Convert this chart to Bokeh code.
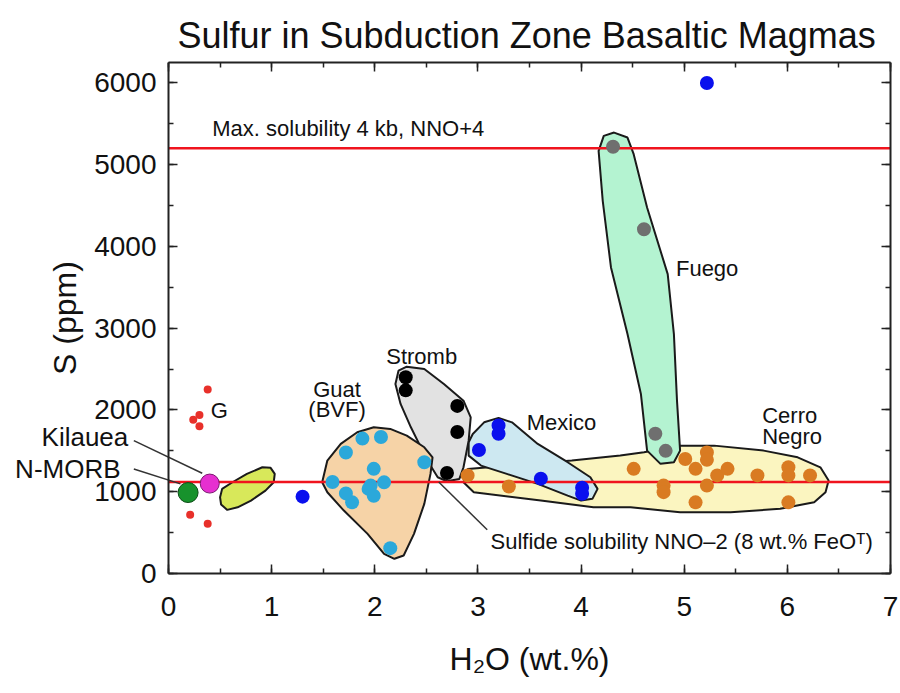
from bokeh.plotting import figure
from bokeh.models import (Range1d, LinearAxis, SingleIntervalTicker, Label,
                          CustomJSTickFormatter)
from bokeh.embed import file_html
from bokeh.resources import INLINE

FONT = "Liberation Sans"

# ---------------- data (H2O wt.%, S ppm) ----------------
g_h2o = [0.38, 0.30, 0.24, 0.30, 0.21, 0.38]
g_s = [2250, 1940, 1880, 1800, 720, 610]

kilauea_h2o = [0.40]
kilauea_s = [1100]

morb_h2o = [0.19]
morb_s = [990]

blue_h2o = [1.30, 5.22]
blue_s = [940, 6000]

mexico_h2o = [3.20, 3.20, 3.01, 3.61, 4.01, 4.01]
mexico_s = [1810, 1710, 1510, 1160, 1050, 975]

guat_h2o = [1.59, 1.72, 1.78, 1.88, 2.06, 1.99, 2.48, 1.96, 2.09, 1.94, 1.72, 1.99, 2.15]
guat_s = [1120, 1480, 870, 1650, 1670, 1280, 1360, 1075, 1115, 1035, 980, 950, 310]

stromb_h2o = [2.30, 2.30, 2.80, 2.80, 2.70]
stromb_s = [2400, 2240, 2050, 1730, 1230]

fuego_h2o = [4.31, 4.61, 4.72, 4.82]
fuego_s = [5220, 4210, 1710, 1500]

cerro_h2o = [2.90, 3.30, 4.51, 4.80, 4.80, 5.01, 5.11, 5.11, 5.22, 5.22, 5.22,
             5.32, 5.42, 5.71, 6.01, 6.01, 6.01, 6.22]
cerro_s = [1200, 1065, 1280, 1075, 995, 1400, 1280, 870, 1480, 1390, 1075,
           1200, 1280, 1200, 1300, 1200, 870, 1200]

# field outlines (H2O, S)
yg_field_h2o = [0.52, 0.62, 0.76, 0.91, 0.99, 1.03, 1.02, 0.94, 0.80, 0.67, 0.57, 0.51, 0.50]
yg_field_s = [1035, 1116, 1218, 1299, 1292, 1218, 1116, 1014, 892, 810, 778, 843, 932]

guat_field_h2o = [1.49, 1.54, 1.67, 1.83, 1.99, 2.15, 2.31, 2.48, 2.56, 2.54, 2.48, 2.38,
                  2.28, 2.19, 2.09, 1.93, 1.70, 1.54]
guat_field_s = [1116, 1381, 1585, 1727, 1788, 1768, 1686, 1544, 1421, 1218, 852, 485,
                220, 180, 241, 485, 770, 994]

stromb_field_h2o = [2.23, 2.31, 2.48, 2.67, 2.86, 2.93, 2.91, 2.86, 2.82, 2.70, 2.61,
                    2.51, 2.35, 2.25, 2.20]
stromb_field_s = [2481, 2530, 2502, 2318, 2114, 1910, 1625, 1299, 1157, 1128, 1177,
                  1381, 1788, 2074, 2318]

mexico_field_h2o = [2.95, 3.06, 3.20, 3.33, 3.58, 3.87, 4.09, 4.16, 4.11, 4.00, 3.87,
                    3.58, 3.28, 3.03, 2.91, 2.91]
mexico_field_s = [1707, 1849, 1903, 1849, 1585, 1361, 1177, 1035, 913, 892, 953,
                  1096, 1218, 1320, 1442, 1605]

cerro_field_h2o = [2.90, 3.91, 4.38, 4.61, 4.96, 5.29, 5.77, 6.10, 6.32, 6.40, 6.37,
                   6.26, 5.93, 5.45, 4.96, 4.48, 4.12, 3.61, 2.96, 2.86]
cerro_field_s = [1279, 1381, 1442, 1482, 1564, 1564, 1503, 1421, 1299, 1137, 994,
                 871, 791, 749, 749, 810, 810, 892, 994, 1116]

fuego_field_h2o = [4.32, 4.45, 4.51, 4.64, 4.84, 4.90, 4.93, 4.96, 4.90, 4.77, 4.64,
                   4.58, 4.45, 4.29, 4.21, 4.17, 4.22]
fuego_field_s = [5393, 5332, 5129, 4476, 3662, 2929, 2114, 1503, 1360, 1341, 1503,
                 2196, 2929, 3743, 4558, 5169, 5352]

# solubility limits (S ppm)
solubility_s = [5200, 1120]

x_min, x_max = 0, 7
y_min, y_max = 0, 6250
x_ticks_interval = 1
y_ticks_interval = 1000

# ---------------- figure ----------------
# The frame covers the whole canvas below the title; the four axes are pinned
# to the 0-7 / 0-6250 box so that labels outside it are not clipped.
px_per_x = (890 - 168) / 7
px_per_y = (573 - 62) / 6250
x_left = -168 / px_per_x
x_right = x_max + (900 - 890) / px_per_x
y_bottom = -(693 - 573) / px_per_y

p = figure(width=900, height=693, output_backend="svg", toolbar_location=None,
           x_range=Range1d(x_left, x_right), y_range=Range1d(y_bottom, y_max),
           min_border_left=0, min_border_right=0, min_border_top=62,
           min_border_bottom=0, x_axis_type=None, y_axis_type=None)
p.background_fill_color = "white"
p.border_fill_color = "white"
p.outline_line_color = None
p.grid.visible = False

p.title.text = "Sulfur in Subduction Zone Basaltic Magmas"
p.title.align = "left"
p.title.offset = 177
p.title.text_font = FONT
p.title.text_font_size = "36px"
p.title.text_font_style = "normal"
p.title.text_color = "#111111"
p.title.standoff = 14

xt = SingleIntervalTicker(interval=x_ticks_interval, num_minor_ticks=2)
yt = SingleIntervalTicker(interval=y_ticks_interval, num_minor_ticks=2)
blank = CustomJSTickFormatter(code="return ''")


def style_axis(ax, labels=True):
    ax.axis_line_color = "#222222"
    ax.axis_line_width = 2
    ax.major_tick_line_color = "#222222"
    ax.minor_tick_line_color = "#222222"
    ax.major_tick_line_width = 1.5
    ax.minor_tick_line_width = 1.5
    ax.major_tick_in = 9
    ax.major_tick_out = 0
    ax.minor_tick_in = 5
    ax.minor_tick_out = 0
    ax.major_label_text_font = FONT
    if labels:
        ax.major_label_text_font_size = "28px"
        ax.major_label_text_color = "#111111"
        ax.axis_label_text_font = FONT
        ax.axis_label_text_font_size = "32px"
        ax.axis_label_text_font_style = "normal"
        ax.axis_label_text_color = "#111111"
    else:
        ax.formatter = blank
        ax.major_label_standoff = 0


xb = LinearAxis(ticker=xt, axis_label="H\u2082O (wt.%)", fixed_location=y_min,
                bounds=(x_min, x_max))
style_axis(xb)
xb.major_label_standoff = 23
xb.axis_label_standoff = 22
p.add_layout(xb, "below")

yl = LinearAxis(ticker=yt, axis_label="S (ppm)", fixed_location=x_min,
                bounds=(y_min, y_max))
style_axis(yl)
yl.major_label_standoff = 12
yl.axis_label_standoff = 8
p.add_layout(yl, "left")

xa = LinearAxis(ticker=xt, bounds=(x_min, x_max))
style_axis(xa, labels=False)
p.add_layout(xa, "above")

yr = LinearAxis(ticker=yt, fixed_location=x_max, bounds=(y_min, y_max))
style_axis(yr, labels=False)
p.add_layout(yr, "right")

# ---------------- fields ----------------
OUT = "#1a1a1a"
p.patch(cerro_field_h2o, cerro_field_s, fill_color="#fbf5c0", line_color=OUT, line_width=2)
p.patch(fuego_field_h2o, fuego_field_s, fill_color="#b4f3d1", line_color=OUT, line_width=2)
p.patch(mexico_field_h2o, mexico_field_s, fill_color="#cde8f1", line_color=OUT, line_width=2)
p.patch(stromb_field_h2o, stromb_field_s, fill_color="#e2e2e2", line_color=OUT, line_width=2)
p.patch(guat_field_h2o, guat_field_s, fill_color="#f6d3a7", line_color=OUT, line_width=2)
p.patch(yg_field_h2o, yg_field_s, fill_color="#d8e85a", line_color=OUT, line_width=2)

# solubility lines (from H2O = 0 to 7)
p.segment(x0=[x_min] * 2, y0=solubility_s, x1=[x_max] * 2, y1=solubility_s,
          line_color="#f0141e", line_width=2.5)

# leader lines
p.segment(x0=[2.62], y0=[solubility_s[1]], x1=[3.09], y1=[534],
          line_color="#333333", line_width=1.5)
p.segment(x0=[-0.336, -0.336], y0=[1625, 1279], x1=[0.327, 0.116], y1=[1226, 1096],
          line_color="#333333", line_width=1.5)

# ---------------- points ----------------
p.scatter(cerro_h2o, cerro_s, size=14, fill_color="#d97b22", line_color=None)
p.scatter(fuego_h2o, fuego_s, size=14, fill_color="#6f6f6f", line_color=None)
p.scatter(mexico_h2o, mexico_s, size=14, fill_color="#0a10ee", line_color=None)
p.scatter(blue_h2o, blue_s, size=14, fill_color="#0a10ee", line_color=None)
p.scatter(stromb_h2o, stromb_s, size=14, fill_color="#000000", line_color=None)
p.scatter(guat_h2o, guat_s, size=14, fill_color="#2ba8da", line_color=None)
p.scatter(g_h2o, g_s, size=8, fill_color="#e8302a", line_color=None)
p.scatter(morb_h2o, morb_s, size=20, fill_color="#17922c", line_color="#0d4d17", line_width=1)
p.scatter(kilauea_h2o, kilauea_s, size=19, fill_color="#e62fd0", line_color="#7a1a70", line_width=1)


# ---------------- annotations ----------------
def lab(x, y, text, size="22px", align="left"):
    p.add_layout(Label(x=x, y=y, text=text, text_font=FONT, text_font_size=size,
                       text_align=align, text_baseline="middle", text_color="#111111"))


lab(0.424, 5440, "Max. solubility 4 kb, NNO+4")
lab(4.92, 3725, "Fuego")
lab(3.81, 1845, "Mexico", align="center")
lab(5.756, 1935, "Cerro")
lab(5.756, 1675, "Negro")
lab(2.455, 2650, "Stromb", align="center")
lab(1.634, 2250, "Guat", align="center")
lab(1.634, 2010, "(BVF)", align="center")
lab(0.41, 1996, "G")
lab(3.122, 395, "Sulfide solubility NNO\u20132 (8 wt.% FeO\u1d40)")
lab(-0.39, 1666, "Kilauea", size="26px", align="right")
lab(-0.465, 1283, "N-MORB", size="26px", align="right")

open("out.html", "w").write(file_html(p, INLINE))
